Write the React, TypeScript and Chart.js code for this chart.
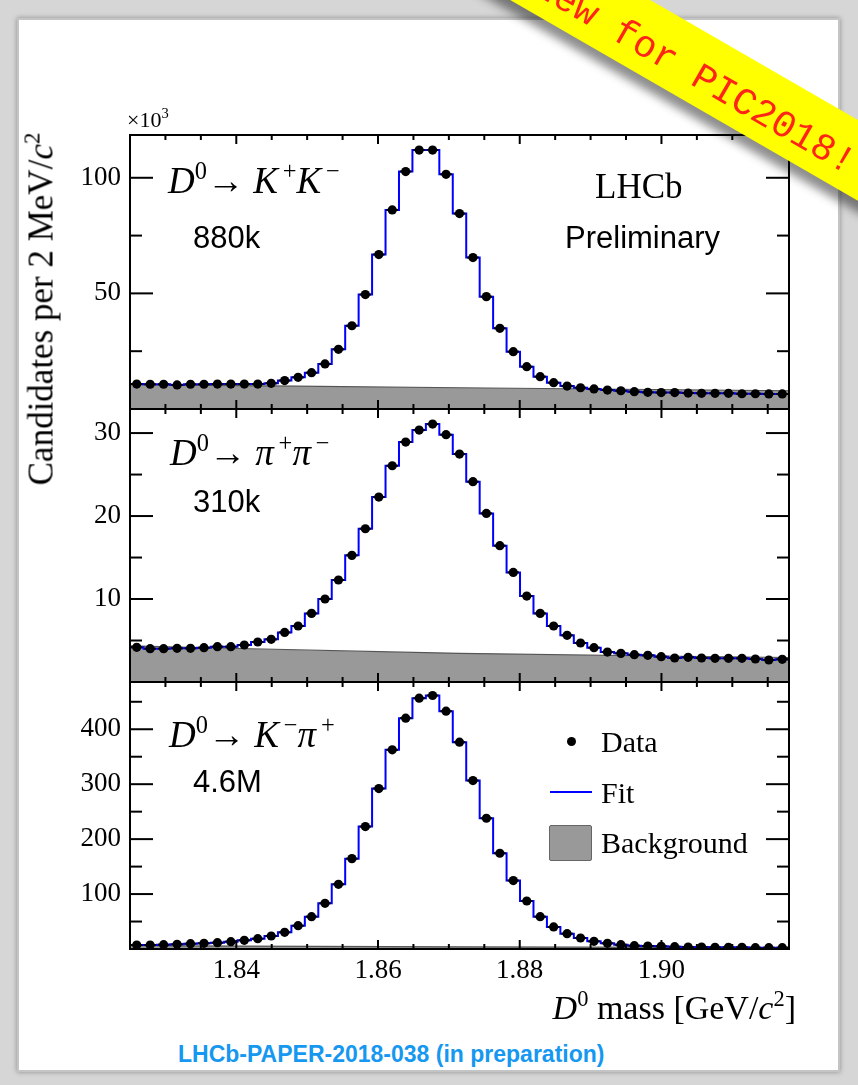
import React, { useEffect, useRef } from 'react';
import { Chart, registerables } from 'chart.js';

Chart.register(...registerables);

// ---------- data ----------
const X_MIN = 1.825;
const X_MAX = 1.918;
const N_BINS = 49;
const BIN_WIDTH = (X_MAX - X_MIN) / N_BINS;

const xMajorTicks = [1.84, 1.86, 1.88, 1.9];
const xMinorTicks = [1.83, 1.835, 1.845, 1.85, 1.855, 1.865, 1.87, 1.875, 1.885, 1.89, 1.895, 1.905, 1.91, 1.915];

const backgroundX = [1.825, 1.8715, 1.918];

// D0 -> K+K-  (x10^3 candidates per bin)
const kkCounts = [
  10.8, 10.7, 10.7, 10.4, 10.7, 10.7, 10.8, 10.8, 10.8, 10.8,
  11.1, 12.3, 13.7, 15.7, 19.5, 25.8, 36.0, 49.5, 66.8, 86.1,
  102.7, 112.0, 112.0, 101.5, 84.5, 65.5, 48.6, 34.9, 24.8, 18.3,
  14.0, 11.4, 9.9, 9.2, 8.7, 8.2, 7.9, 7.5, 7.2, 7.1,
  7.1, 6.9, 6.8, 6.8, 6.8, 6.6, 6.6, 6.5, 6.5,
];
const kkBackground = [10.5, 9.2, 7.9];
const kkMajorTicks = [50, 100];
const kkMinorTicks = [25, 75];

// D0 -> pi+pi-  (x10^3)
const pipiCounts = [
  4.18, 4.02, 4.02, 4.06, 4.06, 4.14, 4.26, 4.26, 4.46, 4.82,
  5.14, 5.98, 6.75, 8.27, 10.0, 12.29, 15.26, 18.47, 22.29, 26.06,
  28.92, 30.36, 31.08, 29.8, 27.47, 24.14, 20.32, 16.43, 13.21, 10.36,
  8.27, 6.75, 5.62, 4.7, 4.14, 3.61, 3.45, 3.29, 3.21, 3.05,
  2.89, 2.97, 2.89, 2.85, 2.85, 2.85, 2.77, 2.65, 2.73,
];
const pipiBackground = [4.35, 3.45, 2.95];
const pipiMajorTicks = [10, 20, 30];
const pipiMinorTicks = [5, 15, 25];

// D0 -> K-pi+  (x10^3)
const kpiCounts = [
  7.3, 7.3, 7.9, 8.5, 9.7, 10.3, 11.5, 13.4, 15.8, 18.8,
  23.7, 30.4, 42.5, 58.9, 83.2, 117.8, 164.5, 222.8, 292.0, 362.5,
  420.2, 456.6, 461.4, 432.9, 376.4, 306.6, 238.0, 174.3, 124.5, 87.4,
  58.9, 40.1, 27.9, 20.0, 14.0, 10.3, 7.9, 6.1, 5.5, 4.9,
  4.2, 3.6, 3.6, 3.0, 3.0, 3.0, 2.4, 2.4, 2.4,
];
const kpiBackground = [6.0, 4.0, 2.5];
const kpiMajorTicks = [100, 200, 300, 400];
const kpiMinorTicks = [50, 150, 250, 350, 450];

// ---------- layout / style ----------
const SERIF = '"Liberation Serif", "Times New Roman", serif';
const SANS = '"Liberation Sans", Arial, Helvetica, sans-serif';
const MONO = '"Liberation Mono", "Courier New", monospace';
const PAGE_W = 858;
const PAGE_H = 1085;
const AREA_LEFT = 130;
const AREA_RIGHT = 789;
const PAD = 10;
const X_AXIS_H = 44;

type PanelSpec = {
  counts: number[];
  background: number[];
  yMax: number;
  major: number[];
  minor: number[];
  top: number;
  bottom: number;
  showX: boolean;
};

const PANELS: PanelSpec[] = [
  { counts: kkCounts, background: kkBackground, yMax: 118.5, major: kkMajorTicks, minor: kkMinorTicks, top: 135, bottom: 409, showX: false },
  { counts: pipiCounts, background: pipiBackground, yMax: 32.9, major: pipiMajorTicks, minor: pipiMinorTicks, top: 409, bottom: 682, showX: false },
  { counts: kpiCounts, background: kpiBackground, yMax: 486, major: kpiMajorTicks, minor: kpiMinorTicks, top: 682, bottom: 949, showX: true },
];

function canvasHeight(p: PanelSpec) {
  return p.bottom - p.top + 2 * PAD + (p.showX ? X_AXIS_H : 0);
}

function makePlugin(p: PanelSpec) {
  return {
    id: 'frameTicks',
    afterDatasetDraw(chart: any, args: any) {
      if (args.index !== 1) return;
      const xs = chart.scales.x;
      const ys = chart.scales.y;
      const ctx = chart.ctx;
      ctx.save();
      ctx.strokeStyle = '#000';
      ctx.lineWidth = 2;
      p.counts.forEach((c, i) => {
        const x0 = xs.getPixelForValue(X_MIN + i * BIN_WIDTH);
        const x1 = xs.getPixelForValue(X_MIN + (i + 1) * BIN_WIDTH);
        const y = ys.getPixelForValue(c);
        ctx.beginPath();
        ctx.moveTo(x0 + 1, y);
        ctx.lineTo(x1 - 1, y);
        ctx.stroke();
      });
      ctx.restore();
    },
    afterDraw(chart: any) {
      const { left, right, top, bottom } = chart.chartArea;
      const xs = chart.scales.x;
      const ys = chart.scales.y;
      const ctx = chart.ctx;
      ctx.save();
      ctx.strokeStyle = '#000';
      ctx.lineWidth = 2;
      const seg = (x0: number, y0: number, x1: number, y1: number) => {
        ctx.beginPath();
        ctx.moveTo(x0, y0);
        ctx.lineTo(x1, y1);
        ctx.stroke();
      };
      const xt = (vals: number[], len: number) =>
        vals.forEach((v) => {
          const x = xs.getPixelForValue(v);
          seg(x, bottom, x, bottom - len);
          seg(x, top, x, top + len);
        });
      const yt = (vals: number[], len: number) =>
        vals.forEach((v) => {
          const y = ys.getPixelForValue(v);
          if (y < top || y > bottom) return;
          seg(left, y, left + len, y);
          seg(right, y, right - len, y);
        });
      xt(xMajorTicks, 9);
      xt(xMinorTicks, 5);
      yt(p.major, 23);
      yt(p.minor, 12);
      ctx.strokeRect(left, top, right - left, bottom - top);
      ctx.restore();
    },
  };
}

function makeConfig(p: PanelSpec): any {
  const centers = p.counts.map((_, i) => X_MIN + (i + 0.5) * BIN_WIDTH);
  const edges = Array.from({ length: p.counts.length + 1 }, (_, i) => X_MIN + i * BIN_WIDTH);
  return {
    type: 'line',
    data: {
      datasets: [
        {
          label: 'Data',
          data: p.counts.map((y, i) => ({ x: centers[i], y })),
          showLine: false,
          pointRadius: 4.6,
          pointHoverRadius: 4.6,
          pointBackgroundColor: '#000',
          pointBorderColor: '#000',
          pointBorderWidth: 0,
        },
        {
          label: 'Fit',
          data: edges.map((x, i) => ({ x, y: p.counts[Math.min(i, p.counts.length - 1)] })),
          stepped: 'before',
          borderColor: '#0000ff',
          borderWidth: 2,
          pointRadius: 0,
          fill: false,
        },
        {
          label: 'Background',
          data: backgroundX.map((x, i) => ({ x, y: p.background[i] })),
          borderColor: '#555555',
          borderWidth: 1.2,
          backgroundColor: '#999999',
          fill: 'start',
          pointRadius: 0,
          cubicInterpolationMode: 'monotone',
        },
      ],
    },
    options: {
      responsive: false,
      maintainAspectRatio: false,
      animation: false,
      devicePixelRatio: 1,
      events: [],
      layout: { padding: { left: 0, right: PAGE_W - AREA_RIGHT, top: PAD, bottom: PAD } },
      plugins: { legend: { display: false }, tooltip: { enabled: false } },
      scales: {
        x: {
          type: 'linear',
          min: X_MIN,
          max: X_MAX,
          display: p.showX,
          grid: { display: false, drawTicks: false },
          border: { display: false },
          ticks: {
            autoSkip: false,
            maxRotation: 0,
            padding: 6,
            color: '#000',
            font: { family: SERIF, size: 27 },
            callback: (v: any) => Number(v).toFixed(2),
          },
          afterBuildTicks: (s: any) => {
            s.ticks = xMajorTicks.map((v) => ({ value: v }));
          },
          afterFit: (s: any) => {
            if (p.showX) s.height = X_AXIS_H;
            s.paddingLeft = 0;
            s.paddingRight = 0;
            s.paddingTop = 0;
            s.paddingBottom = 0;
          },
        },
        y: {
          type: 'linear',
          min: 0,
          max: p.yMax,
          grid: { display: false, drawTicks: false },
          border: { display: false },
          ticks: {
            padding: 9,
            color: '#000',
            font: { family: SERIF, size: 27 },
            callback: (v: any) => String(v),
          },
          afterBuildTicks: (s: any) => {
            s.ticks = p.major.map((v) => ({ value: v }));
          },
          afterFit: (s: any) => {
            s.width = AREA_LEFT;
            s.paddingTop = 0;
            s.paddingBottom = 0;
            s.paddingLeft = 0;
            s.paddingRight = 0;
          },
        },
      },
    },
    plugins: [makePlugin(p)],
  };
}

// ---------- text helpers ----------
const supStyle: React.CSSProperties = {
  fontSize: '0.66em',
  position: 'relative',
  top: '-0.58em',
  verticalAlign: 'baseline',
  lineHeight: 0,
  fontStyle: 'normal',
};

function Txt(props: {
  x: number;
  y: number;
  size: number;
  family: string;
  right?: boolean;
  style?: React.CSSProperties;
  children: React.ReactNode;
}) {
  const { x, y, size, family, right, style, children } = props;
  const pos: React.CSSProperties = right ? { right: PAGE_W - x } : { left: x };
  return (
    <div
      style={{
        position: 'absolute',
        top: y - 0.84 * size,
        ...pos,
        fontSize: size,
        lineHeight: `${size}px`,
        fontFamily: family,
        whiteSpace: 'nowrap',
        color: '#000',
        ...style,
      }}
    >
      {children}
    </div>
  );
}

export default function App() {
  const r0 = useRef<HTMLCanvasElement>(null);
  const r1 = useRef<HTMLCanvasElement>(null);
  const r2 = useRef<HTMLCanvasElement>(null);
  const refs = [r0, r1, r2];

  useEffect(() => {
    const charts = PANELS.map((p, i) => new Chart(refs[i].current as HTMLCanvasElement, makeConfig(p)));
    return () => charts.forEach((c) => c.destroy());
  }, []);

  return (
    <div
      style={{
        position: 'absolute',
        left: 0,
        top: 0,
        width: PAGE_W,
        height: PAGE_H,
        overflow: 'hidden',
        background: '#d6d6d6',
      }}
    >
      {/* paper card */}
      <div
        style={{
          position: 'absolute',
          left: 17,
          top: 18,
          width: 823,
          height: 1054,
          background: '#ffffff',
          border: '2px solid #c4c4c4',
          boxSizing: 'border-box',
          boxShadow: '0 0 5px rgba(0,0,0,0.35)',
        }}
      />

      {PANELS.map((p, i) => (
        <canvas
          key={i}
          ref={refs[i]}
          width={PAGE_W}
          height={canvasHeight(p)}
          style={{ position: 'absolute', left: 0, top: p.top - PAD, width: PAGE_W, height: canvasHeight(p) }}
        />
      ))}

      {/* axis titles */}
      <Txt x={127} y={127} size={22} family={SERIF}>
        ×10<span style={supStyle}>3</span>
      </Txt>
      <div
        style={{
          position: 'absolute',
          left: 41,
          top: 309,
          transform: 'translate(-50%, -50%) rotate(-90deg)',
          fontFamily: SERIF,
          fontSize: 35,
          lineHeight: '35px',
          whiteSpace: 'nowrap',
          color: '#000',
        }}
      >
        Candidates per 2 MeV/<i>c</i>
        <span style={supStyle}>2</span>
      </div>
      <Txt x={796} y={1020} size={34} family={SERIF} right>
        <i>D</i>
        <span style={supStyle}>0</span> mass [GeV/<i>c</i>
        <span style={supStyle}>2</span>]
      </Txt>

      {/* panel labels */}
      <Txt x={168} y={193} size={37} family={SERIF}>
        <i>D</i>
        <span style={supStyle}>0</span>→ <i>K</i>
        <span style={supStyle}>&thinsp;+</span>
        <i>K</i>
        <span style={supStyle}>&thinsp;−</span>
      </Txt>
      <Txt x={193} y={248} size={31} family={SANS}>
        880k
      </Txt>
      <Txt x={595} y={198} size={35} family={SERIF}>
        LHCb
      </Txt>
      <Txt x={565} y={248} size={31} family={SANS}>
        Preliminary
      </Txt>

      <Txt x={170} y={465} size={37} family={SERIF}>
        <i>D</i>
        <span style={supStyle}>0</span>→ <i>π</i>
        <span style={supStyle}>&thinsp;+</span>
        <i>π</i>
        <span style={supStyle}>&thinsp;−</span>
      </Txt>
      <Txt x={193} y={512} size={31} family={SANS}>
        310k
      </Txt>

      <Txt x={169} y={747} size={37} family={SERIF}>
        <i>D</i>
        <span style={supStyle}>0</span>→ <i>K</i>
        <span style={supStyle}>&thinsp;−</span>
        <i>π</i>
        <span style={supStyle}>&thinsp;+</span>
      </Txt>
      <Txt x={193} y={792} size={31} family={SANS}>
        4.6M
      </Txt>

      {/* legend */}
      <div
        style={{
          position: 'absolute',
          left: 566.5,
          top: 736.5,
          width: 9,
          height: 9,
          borderRadius: '50%',
          background: '#000',
        }}
      />
      <Txt x={601} y={752} size={30} family={SERIF}>
        Data
      </Txt>
      <div style={{ position: 'absolute', left: 550, top: 790.5, width: 42, height: 2, background: '#0000ff' }} />
      <Txt x={601} y={803} size={30} family={SERIF}>
        Fit
      </Txt>
      <div
        style={{
          position: 'absolute',
          left: 549,
          top: 825,
          width: 43,
          height: 36,
          background: '#999999',
          border: '1.5px solid #666666',
          borderRadius: 2,
          boxSizing: 'border-box',
        }}
      />
      <Txt x={601} y={853} size={30} family={SERIF}>
        Background
      </Txt>

      {/* footer */}
      <Txt x={178} y={1062} size={23} family={SANS} style={{ color: '#1698f0', fontWeight: 'bold' }}>
        LHCb-PAPER-2018-038 (in preparation)
      </Txt>

      {/* ribbon */}
      <div
        style={{
          position: 'absolute',
          left: 698 - 330,
          top: 68 - 35,
          width: 660,
          height: 70,
          paddingTop: 14,
          boxSizing: 'border-box',
          background: '#ffff00',
          transform: 'rotate(30deg)',
          boxShadow: '-4px 10px 10px rgba(0,0,0,0.45)',
          display: 'flex',
          alignItems: 'center',
          justifyContent: 'center',
          fontFamily: MONO,
          fontSize: 38,
          color: '#ff2418',
          whiteSpace: 'nowrap',
        }}
      >
        New for PIC2018!
      </div>
    </div>
  );
}
